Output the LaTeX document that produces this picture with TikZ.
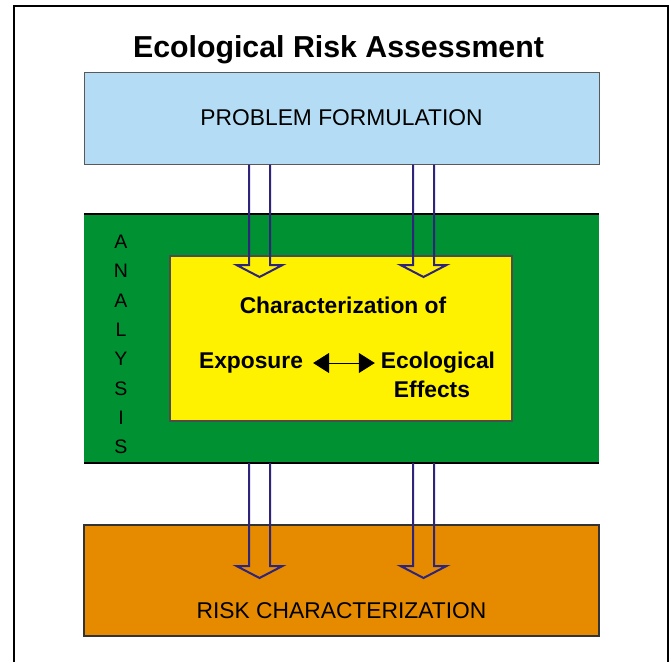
\documentclass[tikz,border=0pt]{standalone}
\usepackage{fontspec}
\setmainfont{Liberation Sans}
\usetikzlibrary{positioning,calc,arrows.meta}
\definecolor{pfblue}{RGB}{180,221,245}
\definecolor{angreen}{RGB}{0,145,50}
\definecolor{chyellow}{RGB}{255,242,0}
\definecolor{rcorange}{RGB}{230,138,0}
\definecolor{flowblue}{RGB}{46,36,122}
\tikzset{
  stagebox/.style={minimum width=515pt, inner sep=0pt, font=\fontsize{22.8}{28}\selectfont},
  boldtext/.style={inner sep=0pt, font=\bfseries\fontsize{22.8}{28}\selectfont},
  flowarrow/.style={draw=flowblue, line width=2pt, line join=miter},
}
\newcommand{\hollowdown}[2]{%
  \draw[flowarrow] ($(#1)+(-10.5,0)$) -- ($(#2)+(-10.5,-12)$) -- ($(#2)+(-23,-12)$)
    -- (#2) -- ($(#2)+(23,-12)$) -- ($(#2)+(10.5,-12)$) -- ($(#1)+(10.5,0)$);}
\begin{document}
\begin{tikzpicture}[x=1pt,y=-1pt]
\useasboundingbox[fill=white] (0,0) rectangle (671,662);
\draw[line width=2.5pt] (14,662) -- (14,6) -- (668,6) -- (668,662);
\node[font=\bfseries\fontsize{30.3}{36}\selectfont, anchor=base] (title) at (338.5,57) {Ecological Risk Assessment};
% the three stages
\node[stagebox, draw=black!65, line width=1pt, fill=pfblue, minimum height=92pt] (pf) at (341.5,118) {PROBLEM FORMULATION};
\node[stagebox, fill=angreen, minimum height=249pt] (an) at (341.5,338.5) {};
\draw[line width=2pt] (an.north west) -- (an.north east);
\draw[line width=2pt] (an.south west) -- (an.south east);
\node[stagebox, draw=black!80, line width=1.5pt, fill=rcorange, minimum height=111pt] (rc) at (341.5,580.5) {};
\node[stagebox, above=18pt of rc.south] (rclabel) {RISK CHARACTERIZATION};
\node[font=\fontsize{19.5}{29.3}\selectfont, align=center, inner sep=0pt] (anlabel) at (121,344.5) {A\\N\\A\\L\\Y\\S\\I\\S};
% characterization box
\node[draw=black!70, line width=1.2pt, fill=chyellow, minimum width=342pt, minimum height=165pt] (ch) at (341,338.5) {};
\node[boldtext, anchor=base] (chtitle) at (343,313) {Characterization of};
\node[boldtext, text height=16pt, text depth=5pt] (expo) at (251,363) {Exposure};
\node[boldtext, text height=16pt, text depth=5pt] (ecol) at (438,363) {Ecological};
\node[boldtext, anchor=base] (eff) at (432,397) {Effects};
\draw[{Triangle[length=16pt,width=20pt]}-{Triangle[length=16pt,width=20pt]}, line width=0.8pt, shorten <=10pt, shorten >=6pt] (expo) -- (ecol);
% flow arrows
\coordinate (a1) at (259.5,277);
\coordinate (a2) at (423.5,277);
\coordinate (b1) at (259.5,578);
\coordinate (b2) at (423.5,578);
\hollowdown{pf.south -| a1}{a1}
\hollowdown{pf.south -| a2}{a2}
\hollowdown{an.south -| b1}{b1}
\hollowdown{an.south -| b2}{b2}
\end{tikzpicture}
\end{document}
